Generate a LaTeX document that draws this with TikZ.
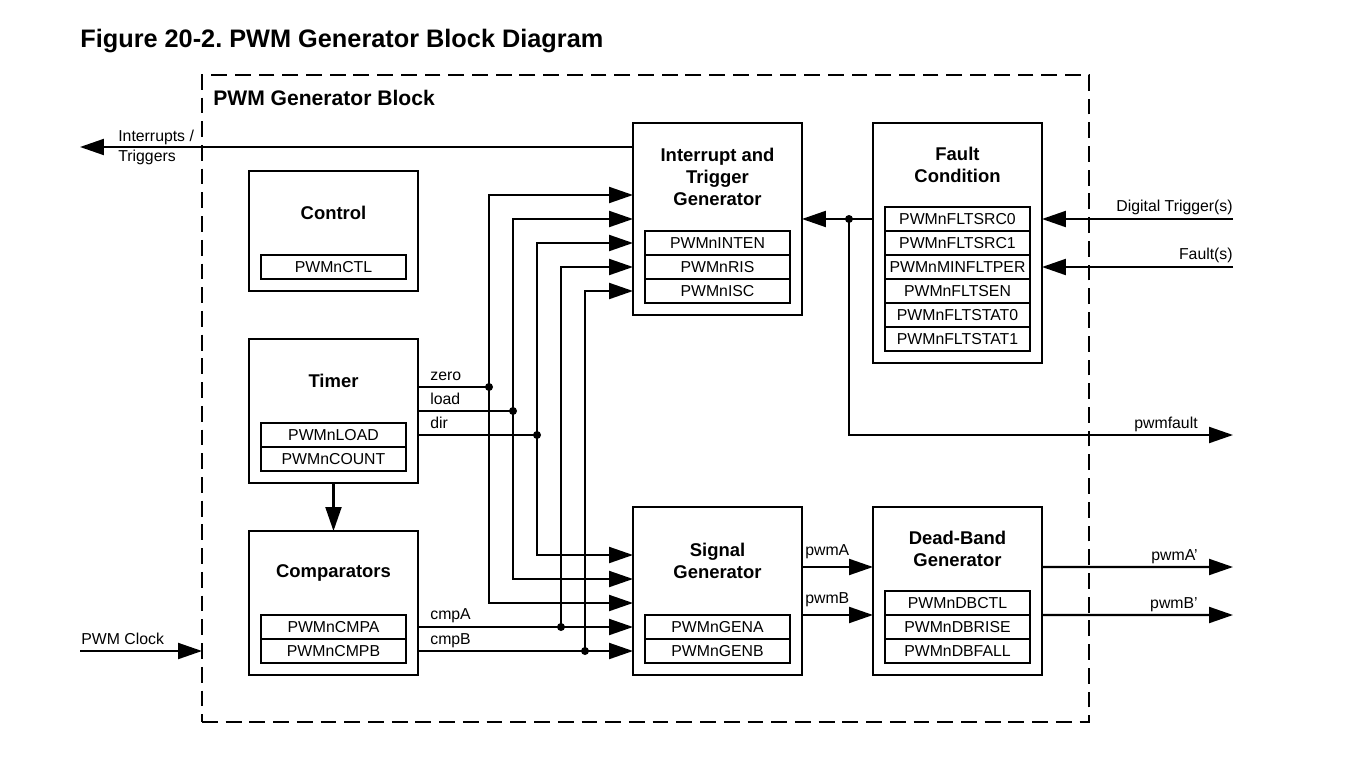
\documentclass[tikz,border=0pt]{standalone}
\usepackage{fontspec}
\setmainfont{Liberation Sans}
\usetikzlibrary{arrows.meta,positioning,calc}
\frenchspacing

\newcommand{\colL}{249}
\newcommand{\colM}{633}
\newcommand{\colR}{873}
\newcommand{\outX}{1233}

\tikzset{
  blk/.style={draw, line width=1.2pt, anchor=north west, minimum width=3.38cm, inner sep=0, outer sep=0},
  reg/.style={draw, line width=1.1pt, minimum width=2.9cm, minimum height=0.48cm, inner sep=0, outer sep=0, font=\fontsize{9}{10}\selectfont},
  ttl/.style={align=center, inner sep=0, font=\bfseries\fontsize{10.5}{12.5}\selectfont},
  lbl/.style={inner sep=0, font=\fontsize{9}{11.3}\selectfont},
  sig/.style={line width=1.2pt, -{Triangle[length=0.48cm,width=0.32cm]}},
  wire/.style={line width=1.2pt}
}

\begin{document}
\begin{tikzpicture}[x=0.02cm, y=-0.02cm]

  \useasboundingbox (0,0) rectangle (1348,781);

  % Title:
  \node[anchor=base west, inner sep=0, font=\bfseries\fontsize{14.4}{17}\selectfont] (fig) at (80,47) {Figure 20-2. PWM Generator Block Diagram};

  % Generator block outline:
  \node[draw, line width=1.2pt, dash pattern=on 9pt off 4.5pt, anchor=north west, minimum width=17.74cm, minimum height=12.94cm, inner sep=0, outer sep=0] (gen) at (202,75) {};
  \node[anchor=base west, inner sep=0, font=\bfseries\fontsize{12}{14}\selectfont] (genT) at (213,105) {PWM Generator Block};

  % Control:
  \node[blk, minimum height=2.4cm] (ctl) at (\colL,171) {};
  \node[reg, anchor=north west] (ctlR) at (\colL+12,255) {PWMnCTL};
  \node[ttl] (ctlT) at ($(ctl.north)!0.5!(ctlR.north)$) {Control};

  % Timer:
  \node[blk, minimum height=2.88cm] (tmr) at (\colL,339) {};
  \node[reg, anchor=north west] (tmrR1) at (\colL+12,423) {PWMnLOAD};
  \node[reg, below=0pt of tmrR1] (tmrR2) {PWMnCOUNT};
  \node[ttl] (tmrT) at ($(tmr.north)!0.5!(tmrR1.north)$) {Timer};

  % Comparators:
  \node[blk, minimum height=2.88cm] (cmp) at (\colL,531) {};
  \node[reg, anchor=north west] (cmpR1) at (\colL+12,615) {PWMnCMPA};
  \node[reg, below=0pt of cmpR1] (cmpR2) {PWMnCMPB};
  \node[ttl] (cmpT) at ($(cmp.north)!0.5!(cmpR1.north)$) {Comparators};

  % Interrupt and trigger generator:
  \node[blk, minimum height=3.84cm] (itg) at (\colM,123) {};
  \node[reg, anchor=north west] (itgR1) at (\colM+12,231) {PWMnINTEN};
  \node[reg, below=0pt of itgR1] (itgR2) {PWMnRIS};
  \node[reg, below=0pt of itgR2] (itgR3) {PWMnISC};
  \node[ttl] (itgT) at ($(itg.north)!0.5!(itgR1.north)$) {Interrupt and\\Trigger\\Generator};

  % Signal generator:
  \node[blk, minimum height=3.36cm] (sgen) at (\colM,507) {};
  \node[reg, anchor=north west] (sgenR1) at (\colM+12,615) {PWMnGENA};
  \node[reg, below=0pt of sgenR1] (sgenR2) {PWMnGENB};
  \node[ttl] (sgenT) at ($(sgen.north)!0.5!(sgenR1.north)$) {Signal\\Generator};

  % Fault condition:
  \node[blk, minimum height=4.8cm] (flt) at (\colR,123) {};
  \node[reg, anchor=north west] (fltR1) at (\colR+12,207) {PWMnFLTSRC0};
  \node[reg, below=0pt of fltR1] (fltR2) {PWMnFLTSRC1};
  \node[reg, below=0pt of fltR2] (fltR3) {PWMnMINFLTPER};
  \node[reg, below=0pt of fltR3] (fltR4) {PWMnFLTSEN};
  \node[reg, below=0pt of fltR4] (fltR5) {PWMnFLTSTAT0};
  \node[reg, below=0pt of fltR5] (fltR6) {PWMnFLTSTAT1};
  \node[ttl] (fltT) at ($(flt.north)!0.5!(fltR1.north)$) {Fault\\Condition};

  % Dead-band generator:
  \node[blk, minimum height=3.36cm] (db) at (\colR,507) {};
  \node[reg, anchor=north west] (dbR1) at (\colR+12,591) {PWMnDBCTL};
  \node[reg, below=0pt of dbR1] (dbR2) {PWMnDBRISE};
  \node[reg, below=0pt of dbR2] (dbR3) {PWMnDBFALL};
  \node[ttl] (dbT) at ($(db.north)!0.5!(dbR1.north)$) {Dead-Band\\Generator};

  % Junctions and free ends:
  \coordinate (zDot) at (489,387);
  \coordinate (lDot) at (513,411);
  \coordinate (dDot) at (537,435);
  \coordinate (aDot) at (561,627);
  \coordinate (bDot) at (585,651);
  \coordinate (fDot) at (849,219);
  \coordinate (irqOut) at (80,147);
  \coordinate (clkIn) at (80,651);
  \coordinate (dtIn) at (\outX,219);
  \coordinate (fIn) at (\outX,267);
  \coordinate (pfOut) at (\outX,435);
  \coordinate (paOut) at (\outX,567);
  \coordinate (pbOut) at (\outX,615);

  % Interrupts / Triggers:
  \draw[sig] ($(itg.north west)+(0,24)$) -- (irqOut);
  \node[lbl, anchor=west, align=left] (irqL) at (118,147) {Interrupts /\\Triggers};

  % Timer to comparators:
  \draw[sig] (tmr.south) -- (cmp.north);

  % Timer outputs:
  \draw[wire] (tmr.east |- zDot) -- (zDot);
  \draw[wire] (tmr.east |- lDot) -- (lDot);
  \draw[wire] (tmr.east |- dDot) -- (dDot);
  \draw[sig] (zDot) |- ($(itg.north west)+(0,72)$);
  \draw[sig] (lDot) |- ($(itg.north west)+(0,96)$);
  \draw[sig] (dDot) |- ($(itg.north west)+(0,120)$);
  \draw[sig] (zDot) |- ($(sgen.north west)+(0,96)$);
  \draw[sig] (lDot) |- ($(sgen.north west)+(0,72)$);
  \draw[sig] (dDot) |- ($(sgen.north west)+(0,48)$);
  \node[lbl, anchor=base west] (zeroL) at (430,380) {zero};
  \node[lbl, anchor=base west] (loadL) at (430,404) {load};
  \node[lbl, anchor=base west] (dirL) at (430,428) {dir};

  % Comparator outputs:
  \draw[sig] (cmp.east |- aDot) -- (aDot -| sgen.west);
  \draw[sig] (cmp.east |- bDot) -- (bDot -| sgen.west);
  \draw[sig] (aDot) |- ($(itg.north west)+(0,144)$);
  \draw[sig] (bDot) |- ($(itg.north west)+(0,168)$);
  \node[lbl, anchor=base west] (cmpAL) at (430,619) {cmpA};
  \node[lbl, anchor=base west] (cmpBL) at (430,644) {cmpB};

  % Dots:
  \foreach \d in {zDot,lDot,dDot,aDot,bDot,fDot}
    \fill (\d) circle (0.08cm);

  % Fault condition:
  \draw[sig] (flt.west |- itg.east) -- (itg.east);
  \draw[sig] (fDot) |- (pfOut);
  \draw[sig] (dtIn) -- (dtIn -| flt.east);
  \draw[sig] (fIn) -- (fIn -| flt.east);
  \node[lbl, anchor=base east] (dtL) at (\outX,211) {Digital Trigger(s)};
  \node[lbl, anchor=base east] (fL) at (\outX,259) {Fault(s)};
  \node[lbl, anchor=base east] (pfL) at (1198,428) {pwmfault};

  % Signal and dead-band outputs:
  \draw[sig] ($(sgen.east)+(0,-24)$) -- ($(db.west)+(0,-24)$);
  \draw[sig] ($(sgen.east)+(0,24)$) -- ($(db.west)+(0,24)$);
  \draw[sig] ($(db.east)+(0,-24)$) -- (paOut);
  \draw[sig] ($(db.east)+(0,24)$) -- (pbOut);
  \node[lbl, anchor=base west] (paL) at (805,555) {pwmA};
  \node[lbl, anchor=base west] (pbL) at (805,603) {pwmB};
  \node[lbl, anchor=base east] (paoL) at (1198,560) {pwmA'};
  \node[lbl, anchor=base east] (pboL) at (1198,608) {pwmB'};

  % PWM clock:
  \draw[sig] (clkIn) -- (clkIn -| gen.west);
  \node[lbl, anchor=base west] (clkL) at (81,644) {PWM Clock};

\end{tikzpicture}
\end{document}
